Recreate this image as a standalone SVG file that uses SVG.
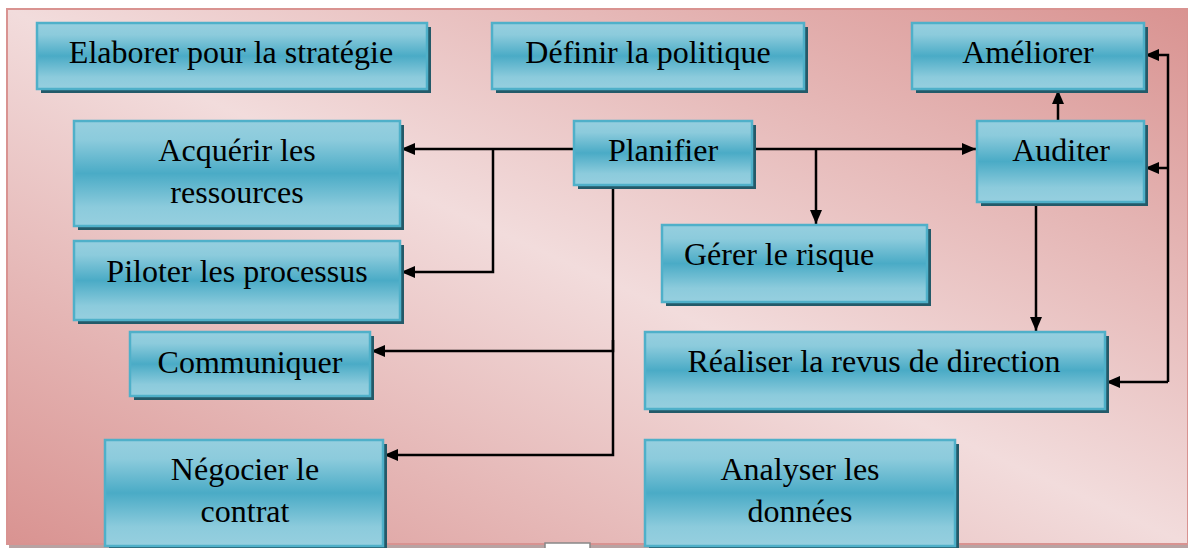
<svg xmlns="http://www.w3.org/2000/svg" width="1188" height="548" viewBox="0 0 1188 548">
<defs>
<linearGradient id="bg" x1="1" y1="0" x2="0" y2="1">
<stop offset="0" stop-color="#d99391"/>
<stop offset="0.5" stop-color="#f2dcdc"/>
<stop offset="1" stop-color="#d99391"/>
</linearGradient>
<linearGradient id="nf" x1="0" y1="0" x2="0" y2="1">
<stop offset="0" stop-color="#96cfdf"/>
<stop offset="0.18" stop-color="#8ccbdc"/>
<stop offset="0.5" stop-color="#4aabc6"/>
<stop offset="0.82" stop-color="#8ccbdc"/>
<stop offset="1" stop-color="#96cfdf"/>
</linearGradient>
<marker id="ah" viewBox="0 0 14 12" refX="14" refY="6" markerWidth="14" markerHeight="12" markerUnits="userSpaceOnUse" orient="auto">
<path d="M0,0 L14,6 L0,12 Z" fill="#000"/>
</marker>
</defs>
<style>
.sh{fill:#235a69}
.bx{fill:url(#nf);stroke:#4fb0c9;stroke-width:2.5}
.t{font-family:"Liberation Serif","Times New Roman",serif;font-size:32px;fill:#000;text-anchor:middle}
.c{fill:none;stroke:#000;stroke-width:2.5}
.a{marker-end:url(#ah)}
</style>
<rect x="0" y="0" width="1188" height="548" fill="#fff"/>
<rect x="9" y="544" width="1179" height="4" fill="#b8a3a3"/>
<rect x="7" y="9" width="1181" height="535" fill="url(#bg)" stroke="#d99391" stroke-width="2"/>
<rect x="545" y="543" width="45" height="6" fill="#fff" stroke="#888" stroke-width="1.5"/>

<g id="connectors">
<path class="c a" d="M574,149 H401"/>
<path class="c a" d="M493,149 V272 H401"/>
<path class="c a" d="M613,185 V351 H371"/>
<path class="c a" d="M613,340 V455 H384"/>
<path class="c a" d="M752,149 H976"/>
<path class="c a" d="M816,149 V224"/>
<path class="c a" d="M1058,121 V90"/>
<path class="c a" d="M1036,202 V331"/>
<path class="c a" d="M1168,382 V55 H1145"/>
<path class="c a" d="M1168,168 H1145"/>
<path class="c a" d="M1168,382 H1106"/>
</g>

<g id="n-elaborer">
<rect class="sh" x="41" y="27" width="390" height="66"/>
<rect class="bx" x="37" y="23" width="390" height="66"/>
<text class="t" x="231" y="63">Elaborer pour la stratégie</text>
</g>
<g id="n-definir">
<rect class="sh" x="496" y="27" width="312" height="66"/>
<rect class="bx" x="492" y="23" width="312" height="66"/>
<text class="t" x="648" y="63">Définir la politique</text>
</g>
<g id="n-ameliorer">
<rect class="sh" x="916" y="27" width="232" height="66"/>
<rect class="bx" x="912" y="23" width="232" height="66"/>
<text class="t" x="1028" y="63">Améliorer</text>
</g>
<g id="n-planifier">
<rect class="sh" x="578" y="125" width="178" height="64"/>
<rect class="bx" x="574" y="121" width="178" height="64"/>
<text class="t" x="663" y="161">Planifier</text>
</g>
<g id="n-auditer">
<rect class="sh" x="981" y="125" width="167" height="81"/>
<rect class="bx" x="977" y="121" width="167" height="81"/>
<text class="t" x="1061" y="161">Auditer</text>
</g>
<g id="n-acquerir">
<rect class="sh" x="78" y="125" width="326" height="105"/>
<rect class="bx" x="74" y="121" width="326" height="105"/>
<text class="t" x="237" y="161">Acquérir les</text>
<text class="t" x="237" y="203">ressources</text>
</g>
<g id="n-piloter">
<rect class="sh" x="78" y="245" width="326" height="79"/>
<rect class="bx" x="74" y="241" width="326" height="79"/>
<text class="t" x="237" y="282">Piloter les processus</text>
</g>
<g id="n-gerer">
<rect class="sh" x="666" y="229" width="265" height="77"/>
<rect class="bx" x="662" y="225" width="265" height="77"/>
<text class="t" x="684" y="265" style="text-anchor:start">Gérer le risque</text>
</g>
<g id="n-communiquer">
<rect class="sh" x="134" y="336" width="240" height="64"/>
<rect class="bx" x="130" y="332" width="240" height="64"/>
<text class="t" x="250" y="373">Communiquer</text>
</g>
<g id="n-realiser">
<rect class="sh" x="649" y="336" width="460" height="77"/>
<rect class="bx" x="645" y="332" width="460" height="77"/>
<text class="t" x="874" y="372">Réaliser la revus de direction</text>
</g>
<g id="n-negocier">
<rect class="sh" x="109" y="444" width="278" height="110"/>
<rect class="bx" x="105" y="440" width="278" height="106"/>
<text class="t" x="245" y="480">Négocier le</text>
<text class="t" x="245" y="522">contrat</text>
</g>
<g id="n-analyser">
<rect class="sh" x="649" y="444" width="310" height="110"/>
<rect class="bx" x="645" y="440" width="310" height="106"/>
<text class="t" x="800" y="480">Analyser les</text>
<text class="t" x="800" y="522">données</text>
</g>
</svg>
